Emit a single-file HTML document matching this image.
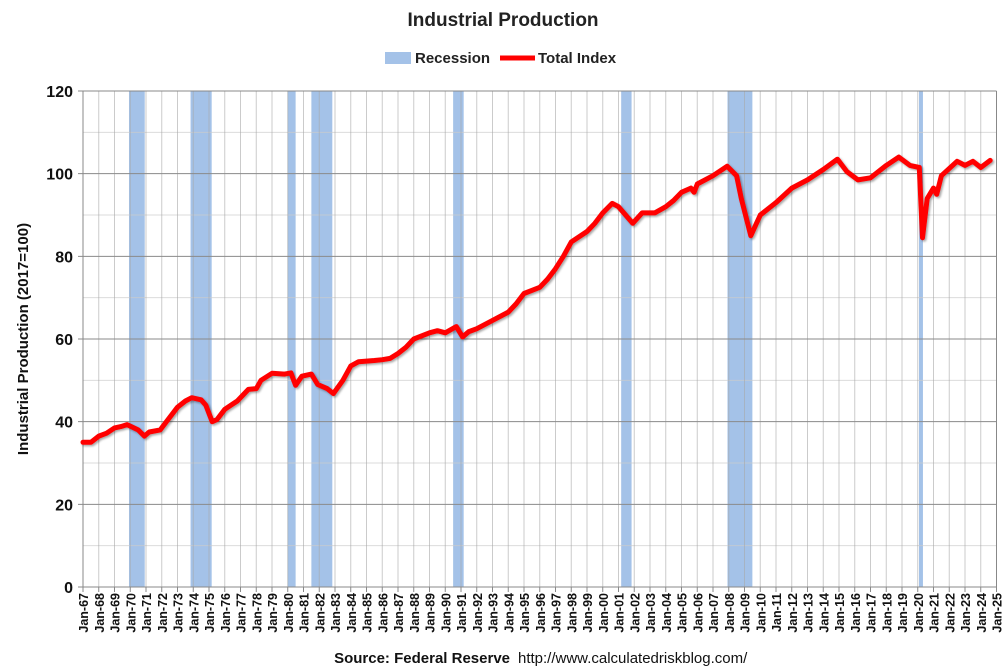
<!DOCTYPE html>
<html><head><meta charset="utf-8"><style>
body{margin:0;background:#fff;font-family:"Liberation Sans",Arial,sans-serif}
svg text{font-family:"Liberation Sans",Arial,sans-serif}
</style></head><body>
<svg id="c" width="1007" height="667" xmlns="http://www.w3.org/2000/svg">
<defs><filter id="sh" x="-5%" y="-5%" width="110%" height="110%"><feDropShadow dx="1.5" dy="1.5" stdDeviation="1" flood-color="#000" flood-opacity="0.35"/></filter></defs>
<text x="503" y="26" text-anchor="middle" font-size="19" font-weight="bold" fill="#222">Industrial Production</text>
<g>
<rect x="385" y="52" width="26" height="12" fill="#a4c2e8"/>
<text x="415" y="63" font-size="15" font-weight="bold" fill="#222">Recession</text>
<line x1="500" y1="58" x2="535" y2="58" stroke="#f00" stroke-width="5"/>
<text x="538" y="63" font-size="15" font-weight="bold" fill="#222">Total Index</text>
</g>
<text transform="translate(28,339) rotate(-90)" text-anchor="middle" font-size="15" font-weight="bold" fill="#111">Industrial Production (2017=100)</text>
<text x="510" y="663" text-anchor="end" font-size="15" font-weight="bold" fill="#111">Source: Federal Reserve</text>
<text x="518" y="663" font-size="15" fill="#111">http://www.calculatedriskblog.com/</text>
<g id="rec"></g><g id="grid"></g><g id="axes"></g><g id="series"></g>
</svg>
<script>
const yTicks=[0,20,40,60,80,100,120];
const recStart=[1969.92,1973.83,1980.0,1981.5,1990.5,2001.17,2007.92,2020.08];
const recEnd=[1970.92,1975.17,1980.5,1982.83,1991.17,2001.83,2009.5,2020.33];
const dates=[1967.0,1967.5,1968,1968.5,1969,1969.4,1969.8,1970.5,1970.9,1971.2,1971.9,1972.5,1973,1973.5,1973.9,1974.5,1974.8,1975.2,1975.5,1976,1976.4,1976.8,1977.5,1978,1978.3,1979,1979.8,1980.2,1980.5,1980.9,1981.5,1981.9,1982.5,1982.9,1983.5,1984,1984.5,1985.5,1986,1986.5,1987,1987.5,1988,1989,1989.5,1990,1990.7,1991.1,1991.5,1992,1993,1994,1994.5,1995,1996,1996.5,1997,1997.5,1998,1999,1999.5,2000,2000.6,2001,2001.9,2002.5,2003.3,2004,2004.5,2005,2005.6,2005.8,2006,2007,2007.9,2008.5,2008.8,2009.4,2010,2011,2012,2013,2014,2014.9,2015.5,2016.2,2017,2018,2018.8,2019.5,2020.1,2020.3,2020.6,2021,2021.2,2021.5,2022.5,2023,2023.5,2024,2024.6];
const values=[35,35,36.5,37.2,38.5,38.8,39.3,38,36.5,37.5,38,41,43.5,45,45.8,45.3,44,40,40.5,43,44,45,47.8,48,50,51.7,51.5,51.8,48.8,51,51.5,49,48,46.8,50,53.5,54.5,54.8,55,55.3,56.5,58,60,61.5,62,61.5,63,60.5,61.8,62.5,64.5,66.5,68.5,71,72.5,74.5,77,80,83.5,86,88,90.5,92.8,92,88,90.5,90.5,92,93.5,95.5,96.5,95.5,97.5,99.5,101.8,99.5,94,85,90,93,96.5,98.5,101,103.5,100.5,98.5,99,102,104,102,101.5,84.5,94,96.5,95,99.5,103,102,103,101.5,103.2];
const X0=83,X1=996.5,Y0=587,Y1=91,T0=1967,T1=2025;
const xs=t=>X0+(t-T0)/(T1-T0)*(X1-X0);
const ys=v=>Y0-(v/120)*(Y0-Y1);
const NS="http://www.w3.org/2000/svg";
function mk(p,tag,a){const e=document.createElementNS(NS,tag);for(const k in a)e.setAttribute(k,a[k]);p.appendChild(e);return e;}
const grid=document.getElementById('grid'),rec=document.getElementById('rec'),axes=document.getElementById('axes'),ser=document.getElementById('series');
for(let v=10;v<120;v+=20){const l=mk(grid,'line',{x1:X0,x2:X1,y1:ys(v),y2:ys(v),stroke:'#ccc','stroke-width':1,'stroke-opacity':0.7});

}
for(let y=T0+1;y<=T1;y++){const l=mk(grid,'line',{x1:xs(y),x2:xs(y),y1:Y1,y2:Y0,stroke:'#a8a8a8','stroke-width':1,'stroke-opacity':0.6});

}
yTicks.forEach(v=>{const l=mk(grid,'line',{x1:X0-5,x2:X1,y1:ys(v),y2:ys(v),stroke:'#8a8a8a','stroke-width':1});


const t=mk(axes,'text',{x:X0-10,y:ys(v)+6,'text-anchor':'end','font-size':16,'font-weight':'bold',fill:'#111'});t.textContent=v;

});
recStart.forEach((s,i)=>{const r=mk(rec,'rect',{x:xs(s),y:Y1,width:xs(recEnd[i])-xs(s),height:Y0-Y1,fill:'#a4c2e8'});

});
const ax=mk(axes,'line',{x1:X0,x2:X0,y1:Y1,y2:Y0,stroke:'#888'});


const ax2=mk(axes,'line',{x1:X1,x2:X1,y1:Y1,y2:Y0,stroke:'#888'});


const ax3=mk(axes,'line',{x1:X0,x2:X1,y1:Y1,y2:Y1,stroke:'#888'});


for(let y=T0;y<=T1;y++){const x=xs(y);
const tk=mk(axes,'line',{x1:x,x2:x,y1:Y0,y2:Y0+5,stroke:'#888'});


const t=mk(axes,'text',{transform:`translate(${x+5},${Y0+6}) rotate(-90)`,'text-anchor':'end','font-size':12.5,'font-weight':'bold',fill:'#111'});
t.textContent='Jan-'+String(y%100).padStart(2,'0');

}
const p=mk(ser,'polyline',{points:dates.map((d,i)=>xs(d).toFixed(1)+','+ys(values[i]).toFixed(1)).join(' '),fill:'none',stroke:'#f00','stroke-width':5,'stroke-linejoin':'round','stroke-linecap':'round',filter:'url(#sh)'});


</script>
</body></html>
